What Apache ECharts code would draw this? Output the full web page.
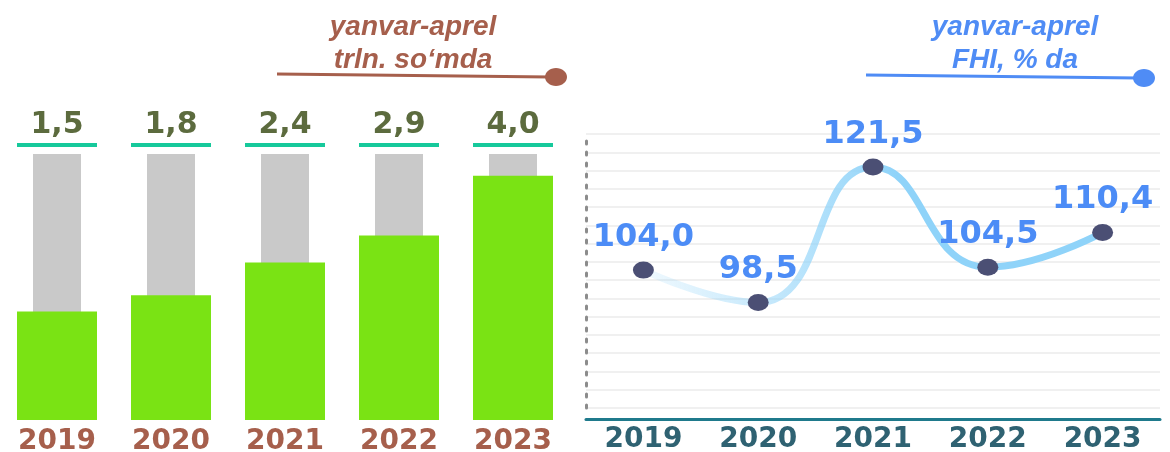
<!DOCTYPE html>
<html>
<head>
<meta charset="utf-8">
<script src="https://cdn.jsdelivr.net/npm/echarts@6/dist/echarts.min.js"></script>
<style>
	html, body { margin: 0; padding: 0; background: #fff; }
	#chart { width: 1170px; height: 452px; }
</style>
</head>
<body>
<div id="chart"></div>
<script>
var years = ['2019', '2020', '2021', '2022', '2023'];
// yanvar-aprel, trln. so'mda
var volumeValues = [1.5, 1.8, 2.4, 2.9, 4.0];
// grey track behind every bar (full scale)
var trackValues = [4.4, 4.4, 4.4, 4.4, 4.4];
// yanvar-aprel, FHI, % da
var indexValues = [104.0, 98.5, 121.5, 104.5, 110.4];

var brown = '#a65f4c';
var blue = '#4c8cf6';
var numFont = 'DejaVu Sans';
var titleFont = 'Liberation Sans';

function comma(v) {
	return v.toFixed(1).replace('.', ',');
}

var chart = echarts.init(document.getElementById('chart'));

var lineGradient = new echarts.graphic.LinearGradient(0, 0, 1, 0, [
	{offset: 0, color: 'rgba(143,211,249,0.12)'},
	{offset: 0.3, color: 'rgba(143,211,249,0.55)'},
	{offset: 0.55, color: '#8fd3f9'},
	{offset: 1, color: '#8fd3f9'}
]);

chart.setOption({
	animation: false,
	grid: [
		{left: 0, width: 570, top: 154, bottom: 32, outerBoundsMode: 'none'},
		{left: 586, right: 10, top: 134, bottom: 44, outerBoundsMode: 'none'}
	],
	xAxis: [
		{
			gridIndex: 0, type: 'category', data: years,
			axisLine: {show: false}, axisTick: {show: false},
			axisLabel: {color: brown, fontSize: 28, fontWeight: 'bold', fontFamily: numFont, margin: 8}
		},
		{gridIndex: 0, type: 'category', data: years, show: false},
		{
			gridIndex: 1, type: 'category', data: years, offset: 11,
			axisLine: {lineStyle: {color: '#1f7a8c', width: 3}}, axisTick: {show: false},
			axisLabel: {color: '#2f6272', fontSize: 28, fontWeight: 'bold', fontFamily: numFont, margin: 7}
		}
	],
	yAxis: [
		{gridIndex: 0, type: 'value', min: -0.5, max: 4.4, startValue: -0.5, show: false},
		{
			gridIndex: 1, type: 'value', min: 80.6, max: 127.1, interval: 3.1,
			axisLine: {show: true, lineStyle: {color: '#8c8c8c', width: 3, type: [3, 8]}},
			axisTick: {show: false}, axisLabel: {show: false},
			splitLine: {lineStyle: {color: '#f0f0f0', width: 2}}
		}
	],
	series: [
		{
			name: 'track', type: 'bar', xAxisIndex: 1, yAxisIndex: 0,
			data: trackValues, barWidth: 48,
			itemStyle: {color: '#c9c9c9'},
			label: {
				show: true, position: 'top', distance: 7,
				formatter: function (p) {
					return '{v|' + comma(volumeValues[p.dataIndex]) + '}\n{u| }';
				},
				rich: {
					v: {color: '#5c6b3e', fontSize: 30, fontWeight: 'bold', fontFamily: numFont, lineHeight: 36},
					u: {width: 80, height: 4, lineHeight: 4, fontSize: 1, backgroundColor: '#16c99b'}
				}
			}
		},
		{
			name: 'volume', type: 'bar', xAxisIndex: 0, yAxisIndex: 0,
			data: volumeValues, barWidth: 80,
			itemStyle: {color: '#7ae314'}
		},
		{
			name: 'FHI', type: 'line', xAxisIndex: 2, yAxisIndex: 1,
			data: indexValues, smooth: 0.5,
			symbol: 'circle', symbolSize: [21, 17],
			itemStyle: {color: '#4b4f74'},
			lineStyle: {width: 7, color: lineGradient},
			label: {
				show: true, position: 'top', distance: 8,
				color: blue, fontSize: 32, fontWeight: 'bold', fontFamily: numFont,
				formatter: function (p) { return comma(p.value); }
			}
		}
	],
	graphic: [
		{
			type: 'text', x: 413, y: 11,
			style: {
				text: 'yanvar-aprel\ntrln. so\u2018mda', fill: brown,
				fontSize: 28, fontWeight: 'bold', fontStyle: 'italic', fontFamily: titleFont,
				align: 'center', verticalAlign: 'top', lineHeight: 33
			}
		},
		{type: 'line', shape: {x1: 277, y1: 74, x2: 550, y2: 77}, style: {stroke: brown, lineWidth: 3}},
		{type: 'ellipse', shape: {cx: 556, cy: 77, rx: 11, ry: 9}, style: {fill: brown}},
		{
			type: 'text', x: 1015, y: 11,
			style: {
				text: 'yanvar-aprel\nFHI, % da', fill: '#4f8cf5',
				fontSize: 28, fontWeight: 'bold', fontStyle: 'italic', fontFamily: titleFont,
				align: 'center', verticalAlign: 'top', lineHeight: 33
			}
		},
		{type: 'line', shape: {x1: 866, y1: 75, x2: 1138, y2: 78}, style: {stroke: '#4f8cf5', lineWidth: 3}},
		{type: 'ellipse', shape: {cx: 1144, cy: 78, rx: 11, ry: 9}, style: {fill: '#4f8cf5'}}
	]
});
</script>
</body>
</html>
